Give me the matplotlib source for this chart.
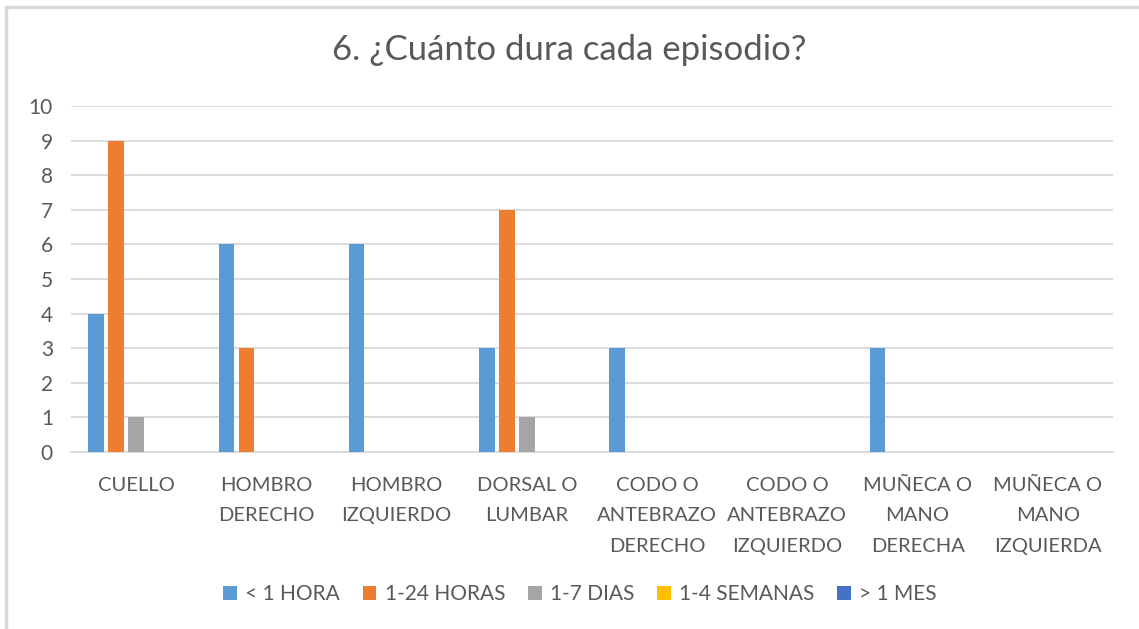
import numpy as np
import matplotlib.pyplot as plt
from matplotlib.patches import Rectangle

plt.rcParams['font.family'] = ['Lato', 'DejaVu Sans']

categories = ['CUELLO', 'HOMBRO\nDERECHO', 'HOMBRO\nIZQUIERDO', 'DORSAL O\nLUMBAR',
              'CODO O\nANTEBRAZO\nDERECHO', 'CODO O\nANTEBRAZO\nIZQUIERDO',
              'MUÑECA O\nMANO\nDERECHA', 'MUÑECA O\nMANO\nIZQUIERDA']
series_names = ['< 1 HORA', '1-24 HORAS', '1-7 DIAS', '1-4 SEMANAS', '> 1 MES']
menos_1_hora = [4, 6, 6, 3, 3, 0, 3, 0]
horas_1_24 = [9, 3, 0, 7, 0, 0, 0, 0]
dias_1_7 = [1, 0, 0, 1, 0, 0, 0, 0]
semanas_1_4 = [0, 0, 0, 0, 0, 0, 0, 0]
mas_1_mes = [0, 0, 0, 0, 0, 0, 0, 0]
colors = ['#5B9BD5', '#ED7D31', '#A5A5A5', '#FFC000', '#4472C4']

text_color = '#595959'
grid_color = '#D9D9D9'

fig = plt.figure(figsize=(11.39, 6.29), dpi=100)
# chart frame (right and bottom edges are cut off in the original)
fig.patches.append(Rectangle((6 / 1139, -0.2), 1.2, 1.2 - 7 / 629, transform=fig.transFigure,
                             fill=False, edgecolor='#D9D9D9', linewidth=2.5))

ax = fig.add_axes([71 / 1139, 1 - 452 / 629, (1113 - 71) / 1139, (452 - 106) / 629])

x = np.arange(len(categories))
step = 0.1536
width = 0.119
all_series = [menos_1_hora, horas_1_24, dias_1_7, semanas_1_4, mas_1_mes]
for i, (vals, name, c) in enumerate(zip(all_series, series_names, colors)):
    ax.bar(x + (i - 2) * step, vals, width, color=c, label=name, zorder=3)

ax.set_xlim(-0.5, len(categories) - 0.5)
ax.set_ylim(0, 10)
ax.set_yticks(range(0, 11))
ax.yaxis.grid(True, color=grid_color, linewidth=1.3, zorder=0)
for s in ['top', 'right', 'left']:
    ax.spines[s].set_visible(False)
ax.spines['bottom'].set_color(grid_color)
ax.spines['bottom'].set_linewidth(1.3)
ax.tick_params(axis='both', length=0, colors=text_color, labelsize=15)
ax.tick_params(axis='y', pad=13)
ax.tick_params(axis='x', pad=18)
ax.set_xticks(x)
ax.set_xticklabels(categories, linespacing=1.95, fontsize=14.5)

fig.text(0.5, 1 - 50 / 629, '6. ¿Cuánto dura cada episodio?', ha='center', va='center',
         fontsize=25, color=text_color)

leg = fig.legend(loc='center', bbox_to_anchor=(580 / 1139, 1 - 594 / 629), ncol=5,
                 frameon=False, fontsize=15, handlelength=0.65, handleheight=0.65,
                 handletextpad=0.4, columnspacing=1.1)
for t in leg.get_texts():
    t.set_color(text_color)

fig.savefig('out.png', dpi=100)
